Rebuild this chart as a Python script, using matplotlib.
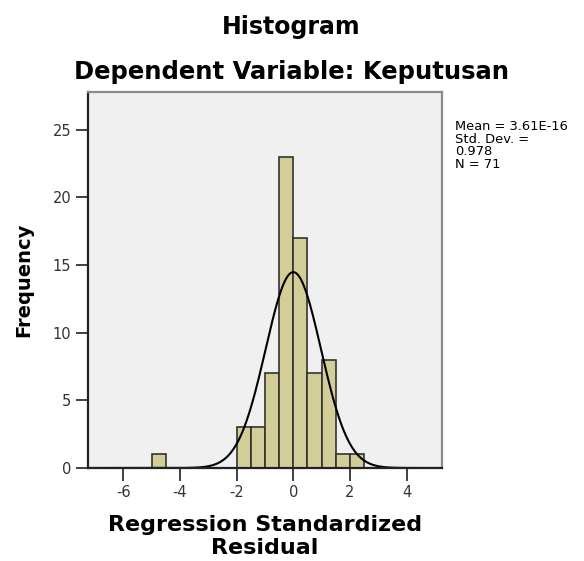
import numpy as np
import matplotlib
matplotlib.use("Agg")
import matplotlib.pyplot as plt

# histogram bins (left edges) and counts
bin_edges = [-5.0, -4.5, -2.0, -1.5, -1.0, -0.5, 0.0, 0.5, 1.0, 1.5, 2.0]
bin_counts = [1, 0, 3, 3, 7, 23, 17, 7, 8, 1, 1]
bin_width = 0.5
mean = 3.61e-16
std_dev = 0.978
n = 71

plt.rcParams['font.family'] = ['DejaVu Sans']
plt.rcParams['axes.unicode_minus'] = False

fig = plt.figure(figsize=(5.84, 5.61), dpi=100)
ax = fig.add_axes([88 / 584, 1 - 468 / 561, (442 - 88) / 584, (468 - 92) / 561])
ax.set_facecolor('#F0F0F0')

ax.bar(bin_edges, bin_counts, width=bin_width, align='edge',
       color='#D3CE97', edgecolor='#333333', linewidth=1.2)

xs = np.linspace(-7.25, 5.25, 500)
pdf = n * bin_width / (std_dev * np.sqrt(2 * np.pi)) * np.exp(-0.5 * ((xs - mean) / std_dev) ** 2)
ax.plot(xs, pdf, color='black', linewidth=1.5)

ax.set_xlim(-7.25, 5.25)
ax.set_ylim(0, 27.8)
ax.set_xticks([-6, -4, -2, 0, 2, 4])
ax.set_yticks([0, 5, 10, 15, 20, 25])
ax.tick_params(direction='out', length=9, width=1.3, labelsize=10.5,
               color='#333333', labelcolor='#333333', pad=3)

for side in ['top', 'right']:
    ax.spines[side].set_color('#8c8c8c')
    ax.spines[side].set_linewidth(1.6)
for side in ['bottom', 'left']:
    ax.spines[side].set_color('#222222')
    ax.spines[side].set_linewidth(1.6)

ax.set_ylabel('Frequency', fontsize=14, fontweight='bold', labelpad=14)
ax.set_xlabel('Regression Standardized\nResidual', fontsize=16, fontweight='bold',
              linespacing=1.2, labelpad=11)

fig.text(291 / 584, 1 - 27 / 561, 'Histogram', fontsize=17, fontweight='bold',
         ha='center', va='center')
fig.text(291 / 584, 1 - 72 / 561, 'Dependent Variable: Keputusan', fontsize=17.5,
         fontweight='bold', ha='center', va='center')

fig.text(455 / 584, 1 - 120 / 561,
         'Mean = 3.61E-16\nStd. Dev. =\n0.978\nN = %d' % n,
         fontsize=9.4, ha='left', va='top', linespacing=0.97)

fig.savefig('out.png', dpi=100, facecolor='white')
